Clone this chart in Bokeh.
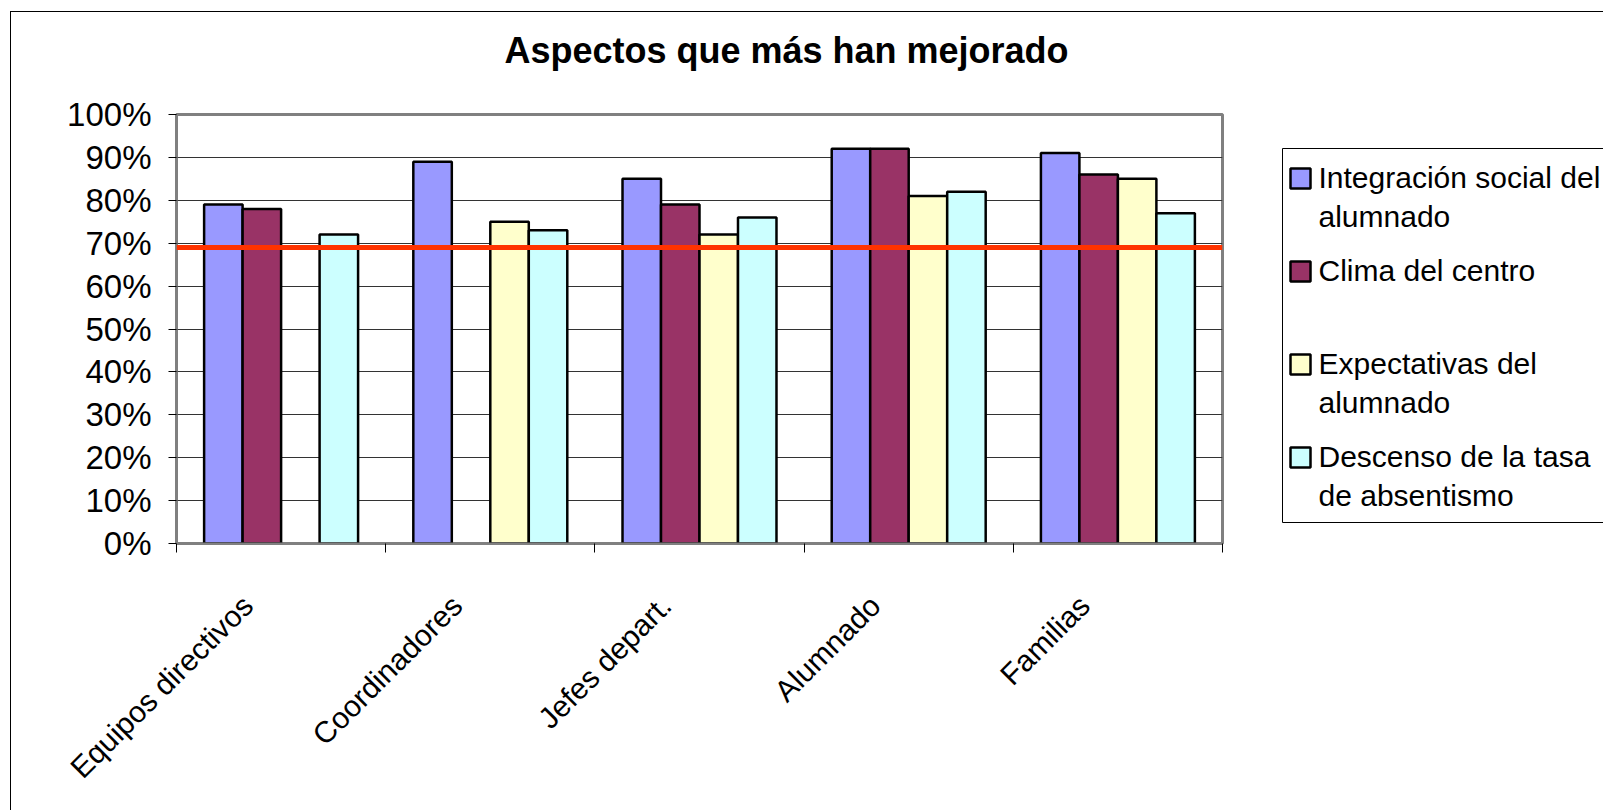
import math
from bokeh.plotting import figure
from bokeh.layouts import row, column
from bokeh.models import (ColumnDataSource, Range1d, FixedTicker, NumeralTickFormatter, Span)
from bokeh.core.properties import value
from bokeh.transform import dodge
from bokeh.embed import file_html
from bokeh.resources import INLINE

NaN = float("nan")

# ---- data ----
categories = ["Equipos directivos", "Coordinadores", "Jefes depart.", "Alumnado", "Familias"]
series_labels = ["Integración social del\nalumnado", "Clima del centro",
                 "Expectativas del\nalumnado", "Descenso de la tasa\nde absentismo"]
integracion = [0.79, 0.89, 0.85, 0.92, 0.91]
clima = [0.78, NaN, 0.79, 0.92, 0.86]
expectativas = [NaN, 0.75, 0.72, 0.81, 0.85]
absentismo = [0.72, 0.73, 0.76, 0.82, 0.77]
reference_level = 0.69
y_ticks = [0.0, 0.1, 0.2, 0.3, 0.4, 0.5, 0.6, 0.7, 0.8, 0.9, 1.0]
title_text = "Aspectos que más han mejorado"

# ---- style / layout (page pixels) ----
colors = ["#9999FF", "#993366", "#FFFFCC", "#CCFFFF"]
FONT = "Liberation Sans"
BAR_W = 0.184
LABEL_SHIFT = -0.16
OX, OY = 11, 12                 # content origin inside the outer border
PAGE_W, PAGE_H = 1603, 810
SPLIT_X = 1240                  # main chart | legend panel
TITLE_BOTTOM = 86
FRAME_L, FRAME_R, FRAME_T, FRAME_B = 176, 1222, 114, 543
TITLE_X, TITLE_TOP = 786, 29

MAIN_W = SPLIT_X - OX
LEG_W = PAGE_W - SPLIT_X
TITLE_H = TITLE_BOTTOM - OY
BODY_H = PAGE_H - OY - TITLE_H
B_TOP = FRAME_T - TITLE_BOTTOM
B_BOT = PAGE_H - FRAME_B

n = len(categories)
centers = [i + 0.5 for i in range(n)]
src = ColumnDataSource(dict(x=centers, s0=integracion, s1=clima, s2=expectativas, s3=absentismo))

# ---- title strip (x mapped on the frame span, y on the strip) ----
tf = figure(width=MAIN_W, height=TITLE_H, x_range=Range1d(FRAME_L, FRAME_R),
            y_range=Range1d(TITLE_BOTTOM, OY), output_backend="svg", toolbar_location=None,
            x_axis_type=None, y_axis_type=None,
            min_border_left=FRAME_L - OX, min_border_right=SPLIT_X - FRAME_R,
            min_border_top=0, min_border_bottom=0)
tf.outline_line_color = None
tf.grid.visible = False
tf.background_fill_color = "white"
tf.border_fill_color = "white"
tf.text(x=[TITLE_X], y=[TITLE_TOP], text=[title_text], text_font=value(FONT),
        text_font_size="36px", text_font_style="bold", text_color="black",
        text_align="center", text_baseline="top")

# ---- main chart ----
p = figure(width=MAIN_W, height=BODY_H, x_range=Range1d(0, n), y_range=Range1d(0, 1),
           output_backend="svg", toolbar_location=None,
           min_border_left=FRAME_L - OX, min_border_right=SPLIT_X - FRAME_R,
           min_border_top=B_TOP, min_border_bottom=B_BOT)
p.background_fill_color = "white"
p.border_fill_color = "white"
p.outline_line_color = "#808080"
p.outline_line_width = 3

for k, col in enumerate(["s0", "s1", "s2", "s3"]):
    off = (k - 1.5) * BAR_W
    p.vbar(x=dodge("x", off, range=p.x_range), top=col, bottom=0, width=BAR_W,
           source=src, fill_color=colors[k], line_color="black", line_width=2.5)

p.add_layout(Span(location=reference_level, dimension="width",
                  line_color="#FF3300", line_width=5))

xa = p.xaxis[0]
label_ticks = [c + LABEL_SHIFT for c in centers]
xa.ticker = FixedTicker(ticks=label_ticks, minor_ticks=list(range(n + 1)))
xa.major_label_overrides = {t: c for t, c in zip(label_ticks, categories)}
xa.major_tick_line_color = None
xa.major_tick_out = 0
xa.major_tick_in = 0
xa.minor_tick_line_color = "black"
xa.minor_tick_out = 9
xa.minor_tick_in = 0
xa.axis_line_color = "#808080"
xa.axis_line_width = 2
xa.major_label_orientation = math.pi / 4
xa.major_label_standoff = 48
xa.major_label_text_font = FONT
xa.major_label_text_font_size = "30px"
xa.major_label_text_color = "black"

ya = p.yaxis[0]
ya.ticker = FixedTicker(ticks=y_ticks, minor_ticks=[])
ya.formatter = NumeralTickFormatter(format="0%")
ya.major_tick_line_color = "black"
ya.major_tick_out = 8
ya.major_tick_in = 0
ya.axis_line_color = "#808080"
ya.axis_line_width = 2
ya.major_label_standoff = 17
ya.major_label_text_font = FONT
ya.major_label_text_font_size = "33px"
ya.major_label_text_color = "black"

p.xgrid.visible = False
p.ygrid.ticker = FixedTicker(ticks=y_ticks)
p.ygrid.grid_line_color = "#333333"
p.ygrid.grid_line_width = 1

# ---- legend panel (page-pixel coordinates; frame matches the main frame vertically) ----
lg = figure(width=LEG_W, height=BODY_H, x_range=Range1d(SPLIT_X, PAGE_W),
            y_range=Range1d(FRAME_B, FRAME_T),
            output_backend="svg", toolbar_location=None,
            x_axis_type=None, y_axis_type=None,
            min_border_left=0, min_border_right=0,
            min_border_top=B_TOP, min_border_bottom=B_BOT)
lg.outline_line_color = None
lg.grid.visible = False
lg.background_fill_color = "white"
lg.border_fill_color = "white"

BOX_L, BOX_T, BOX_B = 1282, 148, 522
SW_X, SW_SIZE = 1300, 20
TXT_X = 1318
FIRST_Y, STEP = 178, 93
lg.quad(left=[BOX_L], right=[BOX_L + 400], top=[BOX_T], bottom=[BOX_B],
        fill_color="white", line_color="black", line_width=1)
ys = [FIRST_Y + i * STEP for i in range(len(series_labels))]
leg_src = ColumnDataSource(dict(x=[SW_X] * len(ys), y=ys, ty=[v - 18 for v in ys],
                                tx=[TXT_X] * len(ys), color=colors, label=series_labels))
lg.rect(x="x", y="y", width=SW_SIZE, height=SW_SIZE, source=leg_src,
        fill_color="color", line_color="black", line_width=2.5)
lg.text(x="tx", y="ty", text="label", source=leg_src, text_font=value(FONT),
        text_font_size="30px", text_color="black", text_align="left",
        text_baseline="top", text_line_height=1.2)

layout = column(tf, row(p, lg, spacing=0), spacing=0)
layout.styles = {"margin-left": "10px", "margin-top": "11px",
                 "border-left": "1px solid #000", "border-top": "1px solid #000"}

open("out.html", "w").write(file_html(layout, INLINE))
